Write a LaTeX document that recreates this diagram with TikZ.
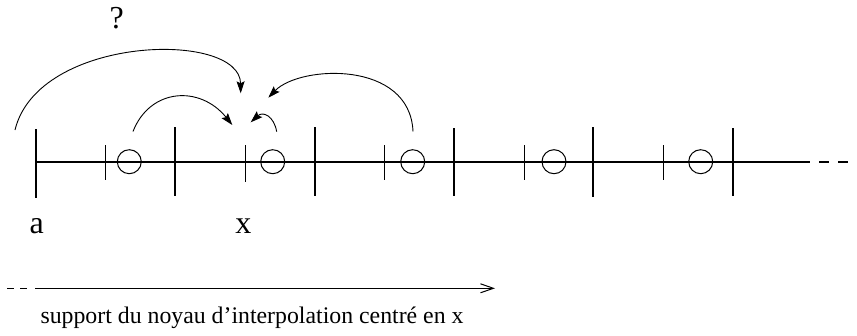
\documentclass[tikz,border=0pt]{standalone}
\usepackage{fontspec}
\setmainfont{Liberation Serif}
\usetikzlibrary{arrows.meta}
\begin{document}
\begin{tikzpicture}[x=1pt,y=-1pt,
  axisline/.style={line width=2pt},
  bigtick/.style={line width=2.2pt},
  smalltick/.style={line width=1pt},
  site/.style={circle,draw,line width=1pt,minimum size=24pt,inner sep=0pt},
  link/.style={line width=0.9pt,-{Stealth[length=12pt,width=8pt,inset=2pt]}},
  lbl/.style={font=\fontsize{32}{38}\selectfont,inner sep=0pt},
  caption/.style={font=\fontsize{23.8}{28}\selectfont,inner sep=0pt,anchor=base}]
\useasboundingbox (0,0) rectangle (857,335);

% axis
\coordinate (ax0) at (35.7,161.7);
\coordinate (ax1) at (810,161.7);
\coordinate (ad0) at (819.3,161.7);
\coordinate (ad1) at (857,161.7);
\draw[axisline] (ax0) -- (ax1);
\draw[axisline,dash pattern=on 9.5pt off 9.5pt] (ad0) -- (ad1);

% big ticks
\foreach \i/\x/\a/\b in {1/35.7/129/198,2/175/127/196,3/314.7/127/196,4/454/128/196,5/593.3/127/197,6/733/128/196}{
  \coordinate (bt\i a) at (\x,\a);
  \coordinate (bt\i b) at (\x,\b);
  \draw[bigtick] (bt\i a) -- (bt\i b);
}
% small ticks
\foreach \i/\x/\b in {1/105.7/180,2/245/182,3/384.3/180,4/524/180,5/663.7/180}{
  \coordinate (st\i a) at (\x,145);
  \coordinate (st\i b) at (\x,\b);
  \draw[smalltick] (st\i a) -- (st\i b);
}
% circles
\foreach \i/\x in {1/129.3,2/272.7,3/412.7,4/554,5/700.7}{
  \node[site] (c\i) at (\x,161.7) {};
}

% labels
\node[lbl] (la) at (36.7,226.5) {a};
\node[lbl] (lx) at (243.3,226) {x};
\node[lbl] (lq) at (116.7,18.5) {?};

% arcs
\coordinate (p1) at (15,130);
\coordinate (t1) at (240.7,93.3);
\coordinate (p2) at (133,131.5);
\coordinate (t2) at (232.3,125);
\coordinate (p3) at (276.7,131.7);
\coordinate (t3) at (250.7,122.3);
\coordinate (p4) at (413,131.5);
\coordinate (t4) at (268.3,97.7);
\draw[link] (p1) .. controls (38,35) and (240,30) .. (t1);
\draw[link] (p2) .. controls (150,88) and (200,85) .. (t2);
\draw[link] (p3) .. controls (274,116) and (263,111) .. (t3);
\draw[link] (p4) .. controls (410,60) and (300,65) .. (t4);

% bottom support arrow
\coordinate (sd0) at (7,288.3);
\coordinate (sd1) at (30,288.3);
\coordinate (s0) at (35,288.3);
\coordinate (s1) at (495,288.3);
\draw[line width=1pt,dash pattern=on 7pt off 6pt] (sd0) -- (sd1);
\draw[line width=1pt,-{Straight Barb[length=13pt,width=9pt]}] (s0) -- (s1);
\node[caption] (cap) at (252,323) {support du noyau d’interpolation centré en x};
\end{tikzpicture}
\end{document}
